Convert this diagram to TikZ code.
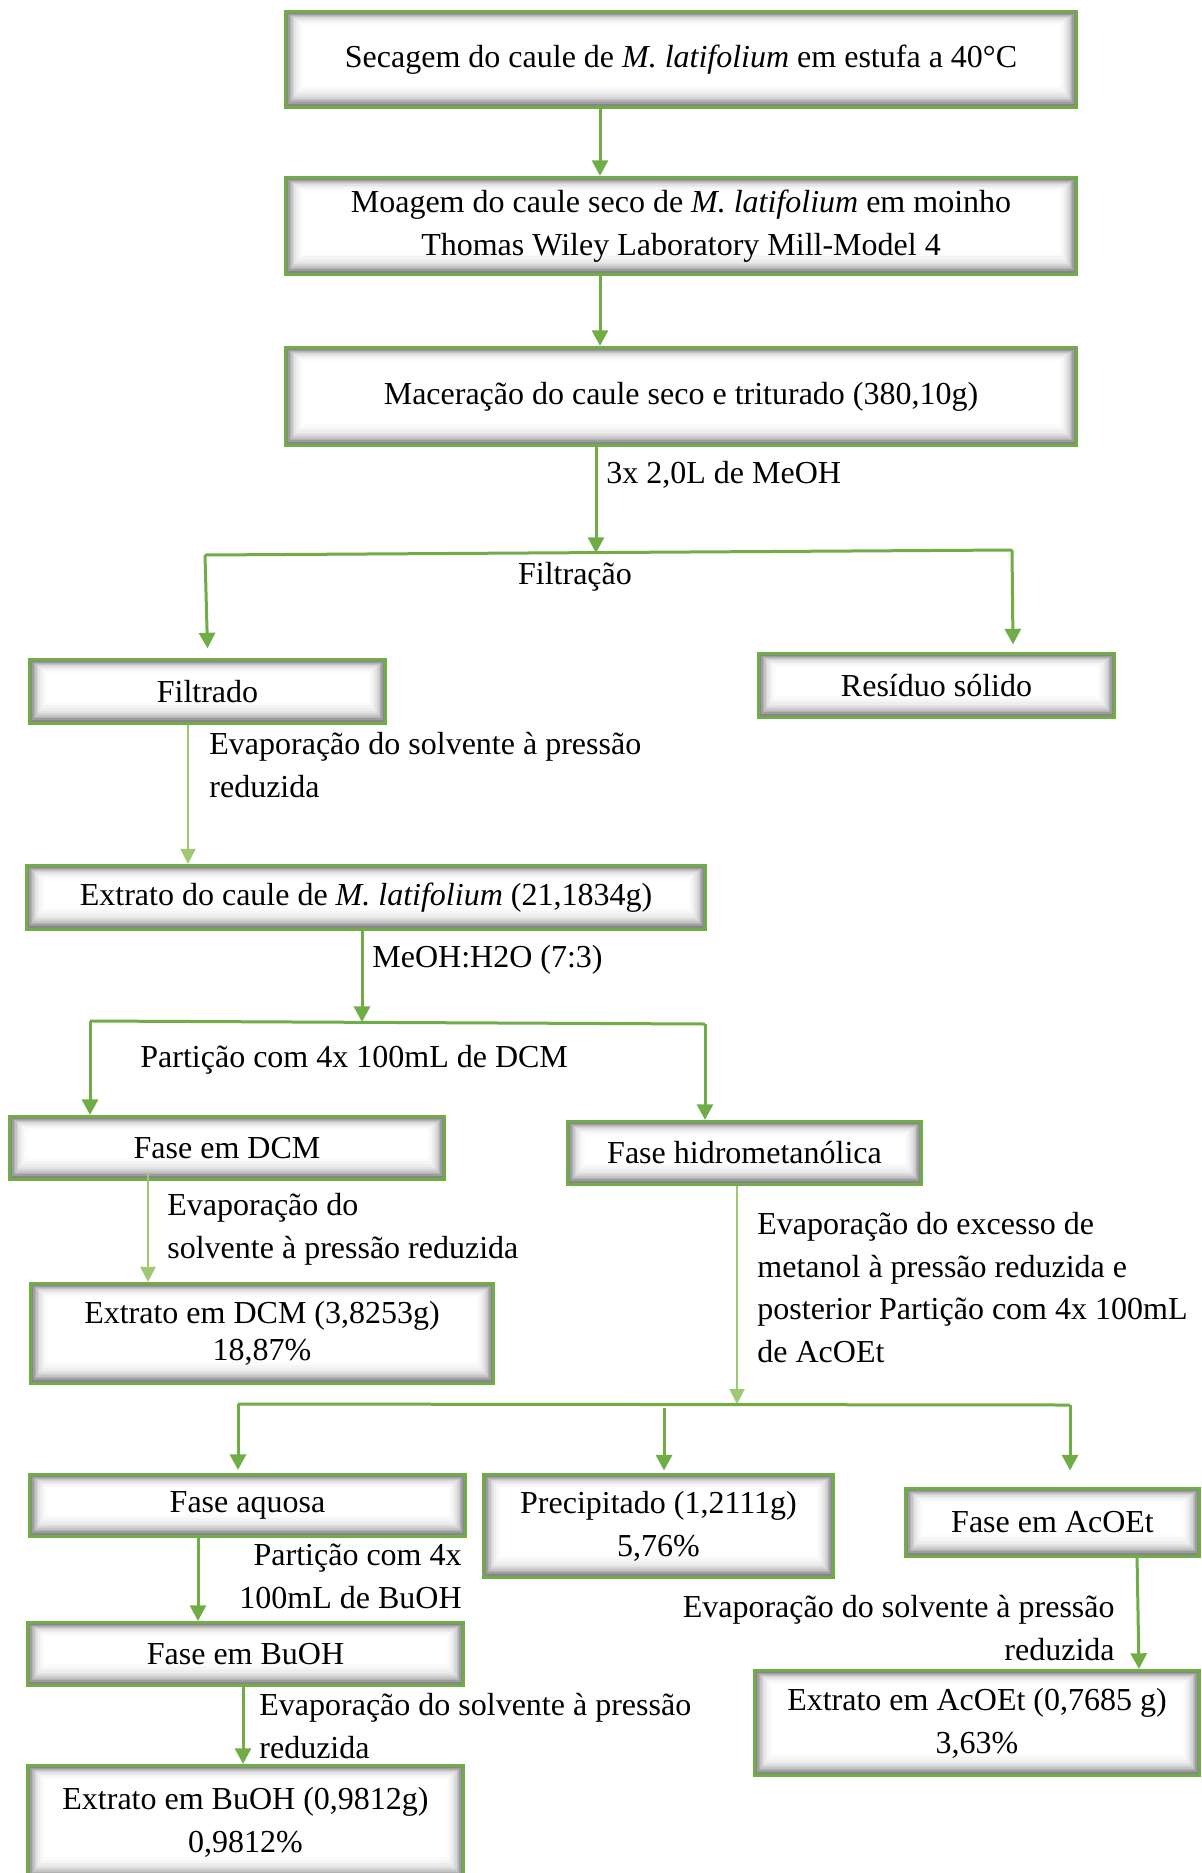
\documentclass[tikz,border=0pt]{standalone}
\usepackage{fontspec}
\setmainfont{Liberation Serif}
\usetikzlibrary{arrows.meta}
\definecolor{gborder}{RGB}{112,173,71}
\definecolor{garrow}{RGB}{112,173,71}
\definecolor{glight}{RGB}{160,200,115}
\newcommand{\txtsz}{\fontsize{16}{21.5}\selectfont}
\tikzset{
  gbox/.style={draw=gborder, line width=1.6pt, fill=white, align=center, inner sep=0pt, font=\txtsz,
    path picture={
      \foreach \dd/\cc in {0/58,0.7/47,1.4/38,2.1/30,2.8/23,3.5/17,4.3/11,5.2/7,6.2/4,7.3/1.5,8.5/0}{
        \fill[black!\cc!white] ([xshift=\dd*1pt, yshift=\dd*1.25pt]path picture bounding box.south west) rectangle ([xshift=-\dd*1pt, yshift=-\dd*0.8pt]path picture bounding box.north east);
      }
    }},
  arr/.style={draw=garrow, line width=1.5pt, -{Triangle[length=7.8pt,width=8pt]}, color=garrow},
  larr/.style={draw=glight, line width=1pt, -{Triangle[length=7.5pt,width=7.5pt]}, color=glight},
  gline/.style={draw=garrow, line width=1.5pt},
  lbl/.style={font=\txtsz, inner sep=0pt},
}
\begin{document}
\begin{tikzpicture}[x=0.5pt,y=-0.5pt]
\useasboundingbox (0,0) rectangle (1202,1873);
\clip (0,0) rectangle (1202,1873);
\fill[white] (0,0) rectangle (1202,1873);

% boxes
\node[gbox, minimum width=395.5pt, minimum height=48pt] (secagem) at (681,59.5) {Secagem do caule de \textit{M. latifolium} em estufa a 40°C};
\node[gbox, minimum width=395.5pt, minimum height=48.5pt] (moagem) at (681,226) {Moagem do caule seco de \textit{M. latifolium} em moinho\\Thomas Wiley Laboratory Mill-Model 4};
\node[gbox, minimum width=395.5pt, minimum height=49pt] (macer) at (681,396.5) {Maceração do caule seco e triturado (380,10g)};
\node[gbox, minimum width=178pt, minimum height=32pt] (filtrado) at (207.5,691.5) {Filtrado};
\node[gbox, minimum width=178pt, minimum height=32pt] (residuo) at (936.5,685.5) {Resíduo sólido};
\node[gbox, minimum width=339.5pt, minimum height=32pt] (extrato) at (366,897.5) {Extrato do caule de \textit{M. latifolium} (21,1834g)};
\node[gbox, minimum width=217.5pt, minimum height=31.5pt] (dcm) at (227,1148) {Fase em DCM};
\node[gbox, minimum width=177pt, minimum height=31.5pt] (hidro) at (744.5,1153) {Fase hidrometanólica};
\node[gbox, minimum width=231.5pt, minimum height=50pt, font=\fontsize{16}{18.5}\selectfont] (exdcm) at (262,1333.5) {Extrato em DCM (3,8253g)\\18,87\%};
\node[gbox, minimum width=218pt, minimum height=31pt] (aquosa) at (247.5,1505.5) {Fase aquosa};
\node[gbox, minimum width=175pt, minimum height=51.5pt] (precip) at (658.5,1526) {Precipitado (1,2111g)\\5,76\%};
\node[gbox, minimum width=147pt, minimum height=34pt] (acoet) at (1052.5,1522.5) {Fase em AcOEt};
\node[gbox, minimum width=218pt, minimum height=31.5pt] (buoh) at (245.5,1654) {Fase em BuOH};
\node[gbox, minimum width=222.5pt, minimum height=52.5pt] (exacoet) at (977,1723) {Extrato em AcOEt (0,7685 g)\\3,63\%};
\node[gbox, minimum width=218pt, minimum height=56.5pt] (exbuoh) at (245.5,1822) {Extrato em BuOH (0,9812g)\\0,9812\%};

% junction coordinates
\coordinate (j1) at (596,553);
\coordinate (b1L) at (205,555);
\coordinate (b1R) at (1012,550);
\coordinate (j2) at (362,1022);
\coordinate (b2L) at (90,1021);
\coordinate (b2R) at (705,1024);
\coordinate (j3) at (737,1404);
\coordinate (b3L) at (238,1404);
\coordinate (b3R) at (1070,1405);
\coordinate (p0) at (664,1408);

% connectors
\draw[arr] ([xshift=-40.5pt]secagem.south) -- ([xshift=-40.5pt]moagem.north);
\draw[arr] ([xshift=-40.5pt]moagem.south) -- ([xshift=-40.5pt]macer.north);
\draw[arr] ([xshift=-42.5pt]macer.south) -- (j1);
\draw[gline] (b1L) -- (b1R);
\draw[arr] (b1L) -- ([yshift=4.75pt]filtrado.north);
\draw[arr] (b1R) -- ([xshift=38.25pt,yshift=3.75pt]residuo.north);

\coordinate (f1) at ([xshift=-9.75pt]filtrado.south);
\draw[larr] (f1) -- (f1 |- extrato.north);

\draw[arr] ([xshift=-2pt]extrato.south) -- (j2);
\draw[gline] (b2L) -- (b2R);
\draw[arr] (b2L) -- (b2L |- dcm.north);
\draw[arr] (b2R) -- (b2R |- hidro.north);

\coordinate (d1) at ([xshift=-39.5pt,yshift=3.75pt]dcm.south);
\draw[larr] (d1) -- (d1 |- exdcm.north);

\draw[larr] ([xshift=-3.75pt]hidro.south) -- (j3);
\draw[gline] (b3L) -- (b3R);
\draw[arr, shorten >=1.5pt] (b3L) -- (b3L |- aquosa.north);
\draw[arr, shorten >=1.2pt] (p0) -- (p0 |- precip.north);
\draw[arr, shorten >=8.25pt] (b3R) -- (b3R |- acoet.north);

\coordinate (a1) at ([xshift=-24.75pt]aquosa.south);
\draw[arr] (a1) -- (a1 |- buoh.north);
\coordinate (a2) at ([xshift=-1.25pt]buoh.south);
\draw[arr] (a2) -- (a2 |- exbuoh.north);
\coordinate (c1) at ([xshift=42.25pt,yshift=1.75pt]acoet.south);
\draw[arr] (c1) -- ([xshift=1pt]c1 |- exacoet.north);

% labels
\node[lbl, anchor=west] (l1) at (606,475) {3x 2,0L de MeOH};
\node[lbl] (l2) at (575,577) {Filtração};
\node[lbl, anchor=west, align=left] (l3) at (209,765) {Evaporação do solvente à pressão\\reduzida};
\node[lbl, anchor=west] (l4) at (372,960) {MeOH:H2O (7:3)};
\node[lbl, anchor=west] (l5) at (140,1060) {Partição com 4x 100mL de DCM};
\node[lbl, anchor=west, align=left] (l6) at (167,1229.5) {Evaporação do\\solvente à pressão reduzida};
\node[lbl, anchor=west, align=left, font=\fontsize{16}{21.2}\selectfont] (l7) at (757,1287.5) {Evaporação do excesso de\\metanol à pressão reduzida e\\posterior Partição com 4x 100mL\\de AcOEt};
\node[lbl, anchor=east, align=right] (l8) at (462,1576.5) {Partição com 4x\\100mL de BuOH};
\node[lbl, anchor=west, align=left] (l9) at (259,1726.5) {Evaporação do solvente à pressão\\reduzida};
\node[lbl, anchor=east, align=right] (l10) at (1115,1628.5) {Evaporação do solvente à pressão\\reduzida};
\end{tikzpicture}
\end{document}
